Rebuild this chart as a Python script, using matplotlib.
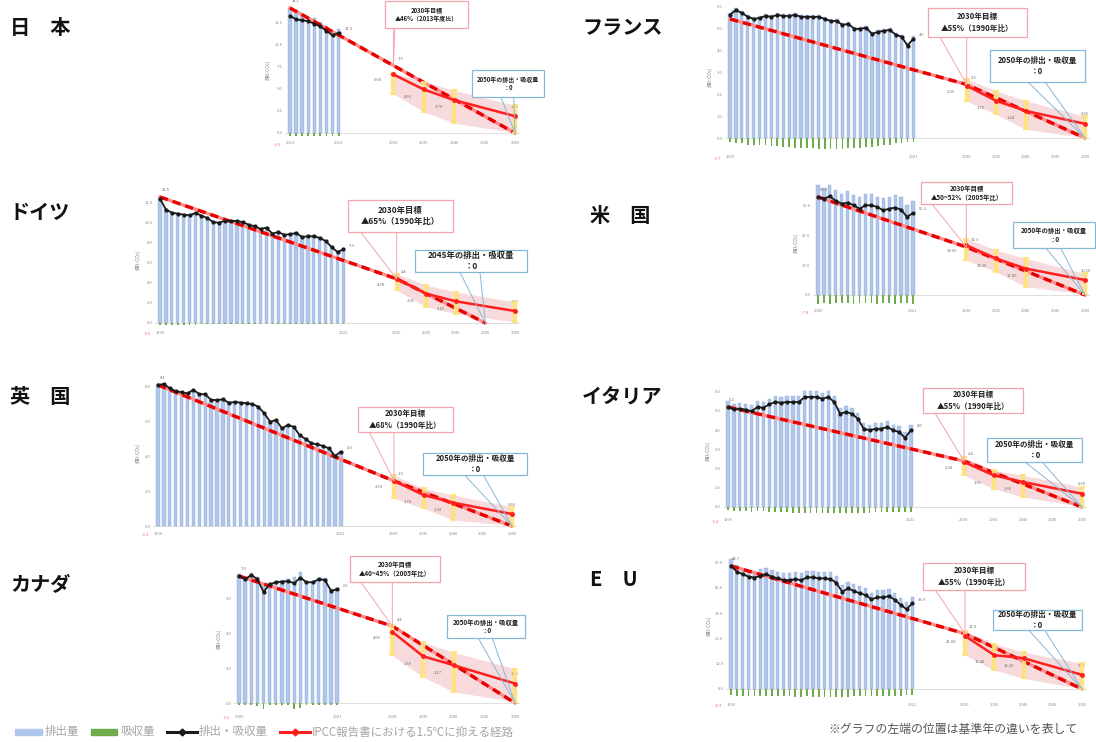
import numpy as np
import matplotlib
matplotlib.use("Agg")
import matplotlib.pyplot as plt
from matplotlib.patches import Rectangle, ConnectionPatch
from matplotlib.lines import Line2D
from matplotlib.ticker import MaxNLocator

plt.rcParams['font.family'] = ['Noto Sans CJK JP', 'DejaVu Sans']

W, H = 1096, 742

# ---------------- data (億t-CO2) ----------------
ipcc_years = [2030, 2035, 2040, 2050]

# Japan 2013-2021
jp_years = list(range(2013, 2022))
jp_bars = [14.1, 13.6, 13.2, 13.0, 12.9, 12.5, 12.1, 11.5, 11.7]
jp_sink = [-0.3, -0.3, -0.3, -0.3, -0.3, -0.3, -0.3, -0.3, -0.3]
jp_net = [13.2, 12.8, 12.7, 12.6, 12.3, 12.0, 11.5, 11.0, 11.3]
jp_target = [14.08, 7.6, 0.0]
jp_ipcc = [6.6, 4.9, 3.7, 1.9]
jp_hi = [6.8, 5.8, 4.8, 3.1]
jp_lo = [4.4, 2.4, 1.1, 0.05]

# France 1990-2021
fr_years = list(range(1990, 2022))
fr_bars = [5.74, 5.96, 5.83, 5.65, 5.55, 5.60, 5.69, 5.65, 5.74, 5.69, 5.69, 5.74,
           5.65, 5.65, 5.65, 5.65, 5.55, 5.46, 5.46, 5.28, 5.33, 5.10, 5.10, 5.15,
           4.87, 4.96, 5.01, 5.05, 4.83, 4.74, 4.33, 4.65]
fr_sink = [-0.20, -0.25, -0.25, -0.30, -0.30, -0.30, -0.30, -0.35, -0.35, -0.40, -0.40,
           -0.45, -0.45, -0.45, -0.45, -0.50, -0.50, -0.50, -0.50, -0.50, -0.45, -0.45,
           -0.45, -0.40, -0.40, -0.35, -0.30, -0.30, -0.25, -0.25, -0.20, -0.20]
fr_net = [5.64, 5.86, 5.73, 5.55, 5.45, 5.50, 5.59, 5.55, 5.64, 5.59, 5.59, 5.64,
          5.55, 5.55, 5.55, 5.55, 5.45, 5.36, 5.36, 5.18, 5.23, 5.00, 5.00, 5.05,
          4.77, 4.86, 4.91, 4.95, 4.73, 4.64, 4.23, 4.55]
fr_target = [5.45, 2.45, 0.0]
fr_ipcc = [2.39, 1.70, 1.24, 0.65]
fr_hi = [2.70, 2.16, 1.70, 1.00]
fr_lo = [1.70, 1.08, 0.39, 0.02]

# Germany 1990-2021
de_years = list(range(1990, 2022))
de_bars = [12.44, 11.35, 11.05, 10.95, 10.85, 10.78, 11.01, 10.75, 10.51, 10.10, 10.05,
           10.25, 10.23, 10.23, 10.10, 9.85, 9.69, 9.43, 9.56, 8.96, 9.13, 8.85, 8.90,
           9.03, 8.64, 8.70, 8.70, 8.54, 8.23, 7.64, 7.14, 7.41]
de_sink = [-0.20, -0.20, -0.20, -0.20, -0.20, -0.20, -0.15, -0.10, -0.05, -0.05, -0.05,
           -0.05, -0.05, -0.05, -0.05, -0.05, -0.05, -0.05, -0.05, -0.05, -0.05, -0.05,
           -0.05, -0.10, -0.10, -0.05, -0.05, -0.05, -0.05, -0.05, -0.05, -0.05]
de_net = [12.34, 11.25, 10.95, 10.85, 10.75, 10.68, 10.91, 10.65, 10.41, 10.00, 9.95,
          10.15, 10.13, 10.13, 10.00, 9.75, 9.59, 9.33, 9.46, 8.86, 9.03, 8.75, 8.80,
          8.93, 8.54, 8.60, 8.60, 8.44, 8.13, 7.54, 7.04, 7.31]
de_target = [12.5, 4.38, 0.0]
de_ipcc = [4.38, 2.91, 2.15, 1.19]
de_hi = [4.88, 3.75, 3.08, 2.09]
de_lo = [3.25, 1.59, 0.93, 0.10]

# United States 2005-2021
us_years = list(range(2005, 2022))
us_bars = [73.8, 72.3, 74.3, 70.5, 68.2, 69.8, 67.1, 66.0, 68.2, 67.8, 66.0, 65.5,
           66.0, 67.1, 66.0, 60.4, 63.3]
us_sink = [-5.8, -5.6, -5.9, -5.5, -5.7, -5.6, -5.8, -5.4, -5.6, -5.7, -5.9, -5.6,
           -5.5, -5.8, -5.7, -5.6, -5.8]
us_net = [66.0, 64.9, 66.5, 63.3, 61.5, 62.2, 60.4, 58.1, 60.4, 60.4, 59.3, 57.0,
          58.1, 58.9, 57.5, 52.6, 55.2]
us_target = [66.0, 32.3, 0.0]
us_ipcc = [33.5, 24.6, 17.8, 10.1]
us_hi = [38.0, 30.2, 24.6, 14.5]
us_lo = [23.5, 15.6, 5.6, 0.7]

# United Kingdom 1990-2021
uk_years = list(range(1990, 2022))
uk_bars = [8.12, 8.18, 7.93, 7.77, 7.70, 7.64, 7.84, 7.60, 7.59, 7.26, 7.26, 7.29,
           7.11, 7.14, 7.11, 7.07, 7.03, 6.87, 6.50, 6.01, 6.11, 5.63, 5.82, 5.72,
           5.24, 5.02, 4.77, 4.71, 4.61, 4.48, 4.04, 4.29]
uk_sink = [-0.02, -0.02, -0.02, -0.02, -0.02, -0.02, -0.02, -0.02, -0.02, -0.02, -0.02,
           -0.02, -0.02, -0.02, -0.02, -0.02, -0.02, -0.02, -0.02, -0.02, -0.02, -0.02,
           -0.02, -0.02, -0.02, -0.02, -0.02, -0.02, -0.02, -0.02, -0.02, -0.02]
uk_net = [8.10, 8.16, 7.91, 7.75, 7.68, 7.62, 7.82, 7.58, 7.57, 7.24, 7.24, 7.27,
          7.09, 7.12, 7.09, 7.05, 7.01, 6.85, 6.48, 5.99, 6.09, 5.61, 5.80, 5.70,
          5.22, 5.00, 4.75, 4.69, 4.59, 4.46, 4.02, 4.27]
uk_target = [8.1, 2.59, 0.0]
uk_ipcc = [2.59, 1.78, 1.34, 0.69]
uk_hi = [2.92, 2.16, 1.78, 1.11]
uk_lo = [1.59, 1.01, 0.35, 0.02]

# Italy 1990-2021
it_years = list(range(1990, 2022))
it_bars = [5.50, 5.38, 5.41, 5.36, 5.28, 5.50, 5.46, 5.64, 5.76, 5.72, 5.76, 5.76,
           5.76, 6.02, 6.02, 6.02, 5.93, 6.02, 5.76, 5.15, 5.24, 5.15, 4.89, 4.37,
           4.29, 4.37, 4.37, 4.46, 4.29, 4.20, 3.89, 4.29]
it_sink = [-0.15, -0.20, -0.20, -0.20, -0.25, -0.20, -0.20, -0.25, -0.25, -0.25, -0.25,
           -0.30, -0.30, -0.30, -0.30, -0.30, -0.30, -0.30, -0.30, -0.30, -0.30, -0.30,
           -0.30, -0.30, -0.30, -0.25, -0.25, -0.25, -0.25, -0.25, -0.25, -0.25]
it_net = [5.20, 5.08, 5.11, 5.06, 4.98, 5.20, 5.16, 5.34, 5.46, 5.42, 5.46, 5.46,
          5.46, 5.72, 5.72, 5.72, 5.63, 5.72, 5.46, 4.85, 4.94, 4.85, 4.59, 4.07,
          3.99, 4.07, 4.07, 4.16, 3.99, 3.90, 3.59, 3.99]
it_target = [5.2, 2.39, 0.0]
it_ipcc = [2.34, 1.65, 1.30, 0.69]
it_hi = [2.60, 1.91, 1.65, 1.04]
it_lo = [1.65, 0.95, 0.52, 0.02]

# Canada 2005-2021
ca_years = list(range(2005, 2022))
ca_bars = [7.40, 7.21, 7.46, 7.26, 6.74, 6.92, 7.04, 7.07, 7.11, 7.23, 7.51, 7.04,
           7.04, 7.21, 7.17, 6.55, 6.63]
ca_sink = [-0.10, -0.10, -0.10, -0.15, -0.35, -0.10, -0.10, -0.10, -0.10, -0.35, -0.30,
           -0.10, -0.10, -0.10, -0.10, -0.10, -0.10]
ca_net = [7.30, 7.11, 7.36, 7.11, 6.39, 6.82, 6.94, 6.97, 7.01, 6.88, 7.21, 6.94,
          6.94, 7.11, 7.07, 6.45, 6.53]
ca_target = [7.3, 4.42, 0.0]
ca_ipcc = [4.09, 2.69, 2.17, 1.12]
ca_hi = [4.47, 3.50, 2.92, 1.97]
ca_lo = [2.74, 1.50, 0.64, 0.07]

# EU 1990-2021
eu_years = list(range(1990, 2022))
eu_bars = [51.4, 49.2, 48.1, 47.2, 46.8, 47.5, 48.1, 47.2, 46.5, 45.8, 45.8, 46.2,
           45.8, 46.9, 46.9, 46.5, 46.5, 46.2, 44.8, 41.2, 42.5, 41.5, 40.6, 39.9,
           38.2, 39.0, 39.0, 39.5, 38.0, 36.0, 34.3, 36.6]
eu_sink = [-2.5, -2.6, -2.6, -2.7, -2.7, -2.7, -2.8, -2.8, -2.8, -2.9, -2.9, -3.0,
           -3.0, -2.9, -3.0, -3.0, -3.0, -3.0, -3.0, -3.0, -3.0, -2.9, -2.9, -2.9,
           -2.8, -2.8, -2.7, -2.7, -2.6, -2.6, -2.5, -2.5]
eu_net = [48.7, 46.5, 45.4, 44.5, 44.1, 44.8, 45.4, 44.5, 43.8, 43.1, 43.1, 43.5,
          43.1, 44.2, 44.2, 43.8, 43.8, 43.5, 42.1, 38.5, 39.8, 38.8, 37.9, 37.2,
          35.5, 36.3, 36.3, 36.8, 35.3, 33.3, 31.6, 33.9]
eu_target = [48.7, 21.9, 0.0]
eu_ipcc = [21.0, 13.4, 12.2, 5.6]
eu_hi = [22.9, 18.0, 14.6, 10.2]
eu_lo = [13.4, 7.5, 4.2, 0.1]

titles = ["日　本", "フランス", "ドイツ", "米　国", "英　国", "イタリア", "カナダ", "E　U"]
goal_texts = ["2030年目標\n▲46%（2013年度比）", "2030年目標\n▲55%（1990年比）",
              "2030年目標\n▲65%（1990年比）", "2030年目標\n▲50~52%（2005年比）",
              "2030年目標\n▲68%（1990年比）", "2030年目標\n▲55%（1990年比）",
              "2030年目標\n▲40~45%（2005年比）", "2030年目標\n▲55%（1990年比）"]
zero_texts = ["2050年の排出・吸収量\n：0", "2050年の排出・吸収量\n：0",
              "2045年の排出・吸収量\n：0", "2050年の排出・吸収量\n：0",
              "2050年の排出・吸収量\n：0", "2050年の排出・吸収量\n：0",
              "2050年の排出・吸収量\n：0", "2050年の排出・吸収量\n：0"]
zero_years = [2050, 2050, 2045, 2050, 2050, 2050, 2050, 2050]
legend_labels = ["排出量", "吸収量", "排出・吸収量", "IPCC報告書における1.5℃に抑える経路"]
note = "※グラフの左端の位置は基準年の違いを表して"

series = [
    (jp_years, jp_bars, jp_sink, jp_net, jp_target, jp_ipcc, jp_hi, jp_lo),
    (fr_years, fr_bars, fr_sink, fr_net, fr_target, fr_ipcc, fr_hi, fr_lo),
    (de_years, de_bars, de_sink, de_net, de_target, de_ipcc, de_hi, de_lo),
    (us_years, us_bars, us_sink, us_net, us_target, us_ipcc, us_hi, us_lo),
    (uk_years, uk_bars, uk_sink, uk_net, uk_target, uk_ipcc, uk_hi, uk_lo),
    (it_years, it_bars, it_sink, it_net, it_target, it_ipcc, it_hi, it_lo),
    (ca_years, ca_bars, ca_sink, ca_net, ca_target, ca_ipcc, ca_hi, ca_lo),
    (eu_years, eu_bars, eu_sink, eu_net, eu_target, eu_ipcc, eu_hi, eu_lo),
]

# ---------------- layout (reference pixels, origin top-left) ----------------
# frame: x of base year, x of 2050, y of zero line, y of base value
frames = [(290, 515, 133, 8), (730, 1085, 138, 19), (160, 515, 323, 197),
          (818, 1085, 295, 197), (158, 512, 526, 385), (728, 1082, 507, 407),
          (239, 515, 703, 576), (731, 1082, 689, 566)]
title_pos = [(10, 27), (582, 27), (10, 213), (590, 215), (10, 397), (582, 397),
             (10, 585), (590, 580)]
pink_boxes = [(385, 1, 468, 28), (928, 8, 1027, 37), (348, 200, 453, 232),
              (921, 182, 1012, 204), (358, 407, 453, 432), (923, 388, 1023, 413),
              (350, 556, 440, 582), (923, 563, 1025, 590)]
blue_boxes = [(472, 70, 544, 97), (990, 50, 1085, 82), (415, 250, 527, 272),
              (1013, 222, 1095, 248), (423, 453, 527, 475), (987, 438, 1082, 462),
              (447, 615, 525, 638), (993, 610, 1082, 630)]
box_fs = [4.3, 5.5, 6, 4.6, 5.5, 5.5, 4.6, 5.5]

BLUE = '#b0c6ea'
GREEN = '#6fab4a'
RED = '#ff1f1f'
PINK_EDGE = '#f3a3ad'
BLUE_EDGE = '#86b8d6'


def fx(x):
    return x / W


def fy(y):
    return 1 - y / H


fig = plt.figure(figsize=(W / 100, H / 100), dpi=100)
fig.patch.set_facecolor('white')

for i, (years, bars, sink, net, target, ipcc, hi, lo) in enumerate(series):
    base = years[0]
    xb, x50, y0, yb = frames[i]
    ppx = (x50 - xb) / (2050 - base)
    ppu = (y0 - yb) / target[0]
    xlo, xhi = base - 0.8, 2050.8
    ylo = min(sink) * 1.1 - 0.02 * target[0]
    yhi = max(bars) * 1.05
    left = xb - (base - xlo) * ppx
    right = xb + (xhi - base) * ppx
    top = y0 - yhi * ppu
    bottom = y0 - ylo * ppu
    ax = fig.add_axes([fx(left), fy(bottom), (right - left) / W, (bottom - top) / H])
    ax.set_xlim(xlo, xhi)
    ax.set_ylim(ylo, yhi)
    ax.patch.set_alpha(0)
    for s in ax.spines.values():
        s.set_visible(False)

    ax.axhline(0, color='#d9d9d9', lw=0.6, zorder=0.5)
    ax.bar(years, bars, width=0.55, color=BLUE, edgecolor='#93acd8', lw=0.3, zorder=1)
    ax.bar(years, sink, width=0.3, color=GREEN, lw=0, zorder=1)

    ax.fill_between(ipcc_years, lo, hi, color='#f2bcc0', alpha=0.55, lw=0, zorder=2)

    tyears = [base, 2030, zero_years[i]]
    ax.plot(tyears, target, color='#ff8f8f', lw=2.4, zorder=3)
    ax.plot(tyears, target, color='#e80000', lw=2.4, ls=(0, (2.5, 1.5)), zorder=3.1)

    err = [np.array(ipcc) - np.array(lo), np.array(hi) - np.array(ipcc)]
    ax.errorbar(ipcc_years, ipcc, yerr=err, fmt='none', ecolor='#ffe27a',
                elinewidth=3.2, capsize=2.5, capthick=1.5, alpha=0.9, zorder=3.5)
    ax.plot(ipcc_years, ipcc, color=RED, lw=1.8, marker='o', ms=2.5, zorder=5)
    ax.plot(years, net, color='#1a1a1a', lw=1.3, marker='o', ms=2.0, zorder=6)

    # tiny value labels
    lab = dict(fontsize=3, color='#707070', textcoords='offset points')
    ax.annotate(f"{target[0]:.1f}", (base, target[0]), xytext=(1, 4), **lab)
    ax.annotate(f"{net[-1]:.1f}", (years[-1], net[-1]), xytext=(4, 2), **lab)
    ax.annotate(f"{target[1]:.1f}", (2030, target[1]), xytext=(3, 4), **lab)
    ax.annotate(f"{ipcc[0]:.2f}", (2030, ipcc[0]), xytext=(-14, -5), **lab)
    ax.annotate(f"{ipcc[1]:.2f}", (2035, ipcc[1]), xytext=(-14, -6), **lab)
    ax.annotate(f"{ipcc[2]:.2f}", (2040, ipcc[2]), xytext=(-14, -6), **lab)
    ax.annotate(f"{ipcc[3]:.2f}", (2050, ipcc[3]), xytext=(-3, 6), **lab)

    # axes ticks
    loc = MaxNLocator(nbins=7, steps=[1, 2, 2.5, 5, 10])
    yt = [t for t in loc.tick_values(0, yhi) if 0 <= t <= yhi]
    ax.set_yticks(yt)
    ax.set_yticklabels([f"{t:.1f}" for t in yt])
    ax.set_xticks([base, 2021, 2030, 2035, 2040, 2045, 2050])
    ax.set_xticklabels([str(base), "2021", "2030", "2035", "2040", "2045", "2050"])
    ax.tick_params(length=0, labelsize=3, labelcolor='#8c8c8c', pad=2)
    ax.set_ylabel("(億t-CO₂)", fontsize=3.5, color='#8c8c8c', labelpad=3)
    ax.annotate(f"-{abs(ylo):.1f}", (xlo, ylo), xytext=(-3, -3), textcoords='offset points',
                fontsize=3, color='#ff5c7a', ha='right', va='top')

    # title
    tx, ty = title_pos[i]
    fig.text(fx(tx), fy(ty), titles[i], fontsize=14.5, fontweight='bold',
             ha='left', va='center', color='#111111')

    # callout boxes
    for (l, t, r, b), txt, ec, pt, anchors in [
            (pink_boxes[i], goal_texts[i], PINK_EDGE, (2030, target[1]), (0.12, None)),
            (blue_boxes[i], zero_texts[i], BLUE_EDGE, (zero_years[i], 0.0), (0.40, 0.58))]:
        fig.add_artist(Rectangle((fx(l), fy(b)), (r - l) / W, (b - t) / H,
                                 transform=fig.transFigure, facecolor='white',
                                 edgecolor=ec, lw=0.9, zorder=4))
        fig.text(fx((l + r) / 2), fy((t + b) / 2), txt, fontsize=box_fs[i],
                 fontweight='bold', ha='center', va='center', color='#222222',
                 linespacing=1.3, zorder=5)
        ptx = xb + (pt[0] - base) * ppx
        a1 = l + anchors[0] * (r - l)
        a2 = ptx if anchors[1] is None else l + anchors[1] * (r - l)
        a2 = min(max(a2, l + 2), r - 2)
        for ax_x in (a1, a2):
            cp = ConnectionPatch(xyA=(ax_x, H - b), coordsA='figure pixels',
                                 xyB=pt, coordsB='data', axesB=ax,
                                 color=ec, lw=0.7, arrowstyle='-', zorder=3.9)
            fig.add_artist(cp)

# ---------------- legend ----------------
ly = 732
leg_items = [(15, 42, 'patch', BLUE), (91, 117, 'patch', GREEN),
             (167, 197, 'line', '#1a1a1a'), (280, 310, 'line', RED)]
leg_text_x = [45, 120, 199, 312]
for (x0, x1, kind, col), tx, label in zip(leg_items, leg_text_x, legend_labels):
    if kind == 'patch':
        fig.add_artist(Rectangle((fx(x0), fy(ly + 3)), (x1 - x0) / W, 6 / H,
                                 transform=fig.transFigure, color=col))
    else:
        fig.add_artist(Line2D([fx(x0), fx(x1)], [fy(ly), fy(ly)], transform=fig.transFigure,
                              color=col, lw=2.2))
        fig.add_artist(Line2D([fx((x0 + x1) / 2)], [fy(ly)], transform=fig.transFigure,
                              color=col, marker='D', ms=3.5))
    fig.text(fx(tx), fy(ly), label, fontsize=8.3, color='#a6a6a6', ha='left', va='center')

fig.text(fx(828), fy(729), note, fontsize=8.6, color='#555555', ha='left', va='center')

fig.savefig("out.png", dpi=100, facecolor='white')
